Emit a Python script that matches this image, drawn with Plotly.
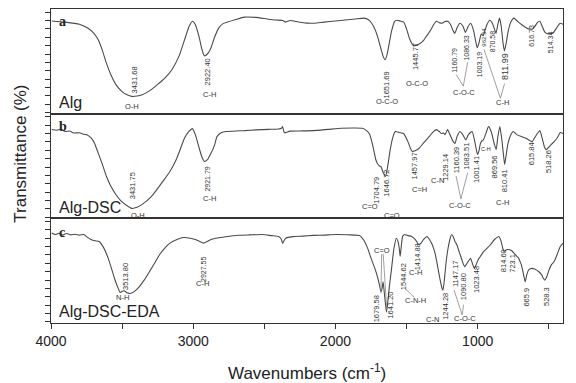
import plotly.graph_objects as go
from plotly.subplots import make_subplots

# ---------------- data (wavenumber cm-1, relative transmittance per panel) -------------
wn_a = [3995, 3900, 3800, 3745, 3700, 3665, 3640, 3610, 3575, 3540, 3500, 3465, 3432, 3395, 3359, 3300,
        3250, 3200, 3150, 3100, 3060, 3030, 3006, 2985, 2960, 2940, 2922, 2900, 2875, 2850, 2820, 2790,
        2760, 2700, 2640, 2560, 2480, 2420, 2370, 2350, 2320, 2260, 2200, 2150, 2080, 2000, 1930, 1860,
        1800, 1770, 1745, 1720, 1700, 1680, 1665, 1652, 1638, 1622, 1605, 1585, 1568, 1545, 1520, 1500,
        1480, 1460, 1446, 1430, 1405, 1380, 1355, 1330, 1310, 1290, 1270, 1250, 1230, 1210, 1190, 1175,
        1161, 1145, 1125, 1105, 1086, 1068, 1050, 1030, 1015, 1003, 990, 975, 962, 950, 935, 915, 895,
        880, 871, 860, 847, 835, 822, 812, 800, 785, 765, 745, 725, 700, 670, 645, 625, 617, 600, 580,
        563, 545, 528, 514, 495, 470, 445, 420, 400]
t_a = [88.6, 87.5, 85.5, 82, 77, 70, 61, 48, 36, 27, 21, 18, 16.5, 16.8, 18, 22.5,
       28, 34, 42, 55, 71, 83, 88.3, 85, 74, 62, 55.3, 57, 63, 73, 82, 86,
       87.5, 90, 92.2, 92, 90.5, 89.5, 89, 87.5, 89, 87.5, 86.5, 86.4, 87.5, 88.5, 89.5, 90.5,
       91.3, 90, 86.4, 80, 72, 62, 55, 51.5, 56, 67, 79, 88, 89.3, 88.5, 87.4, 81,
       72, 66.5, 65, 65.5, 67, 70, 75, 80, 85, 88.3, 87, 86.4, 88, 88.3, 85, 80,
       76.7, 82, 86.4, 84, 77.7, 83, 86.4, 80, 70, 63, 68, 76, 74.5, 79, 85, 89.3, 86,
       80, 76.7, 84, 91.3, 84, 68, 60, 67, 79, 88, 91.3, 89, 86, 83, 81, 80.8, 80.6, 83, 87,
       88.3, 83, 78, 76.7, 76.2, 77, 82, 86.4, 85.4]

wn_b = [3995, 3960, 3930, 3900, 3870, 3840, 3800, 3770, 3745, 3720, 3695, 3670, 3640, 3610, 3580, 3545,
        3510, 3470, 3432, 3395, 3359, 3300, 3265, 3215, 3164, 3120, 3092, 3060, 3030, 3006, 2985, 2960,
        2940, 2922, 2900, 2876, 2850, 2833, 2800, 2768, 2700, 2638, 2560, 2470, 2400, 2380, 2372, 2360,
        2350, 2320, 2250, 2156, 2050, 1960, 1880, 1810, 1775, 1759, 1735, 1716, 1705, 1690, 1680, 1665,
        1647, 1630, 1615, 1595, 1579, 1550, 1521, 1500, 1485, 1470, 1458, 1440, 1413, 1380, 1341, 1310,
        1291, 1270, 1255, 1240, 1229, 1212, 1195, 1175, 1160, 1145, 1125, 1105, 1084, 1065, 1039, 1020,
        1001, 990, 981, 970, 960, 945, 924, 905, 885, 870, 858, 844, 830, 818, 810, 800, 787, 770, 750,
        725, 693, 660, 630, 616, 595, 575, 563, 545, 530, 518, 500, 480, 462, 440, 419, 400]
t_b = [84.9, 84.2, 85, 83, 83.5, 81.5, 81.8, 80.3, 79.6, 77, 72, 63, 52, 40, 31, 23,
       17, 12.5, 9.5, 10.5, 13.3, 20, 25.7, 35, 44.8, 56, 65.7, 77, 83, 85.7, 80, 68,
       59, 54.3, 56, 61.9, 70, 78.1, 82, 82.9, 83.5, 83.8, 84.5, 85, 85.4, 86, 87.6, 82,
       81.9, 83.3, 83.5, 83.8, 85, 86, 86.3, 86, 83, 80, 68, 56, 52.4, 50, 49.5, 44,
       40, 52, 65.7, 78, 82.9, 82, 81, 76, 71.4, 66, 63.8, 64.5, 66.7, 72, 78.1, 83,
       84.8, 83, 81, 81.5, 80, 84.8, 80, 74, 71.4, 78, 82.9, 80, 75, 80, 82.9, 73,
       61, 65, 71.4, 74, 75, 80, 87.6, 83, 72, 65.7, 78, 87.6, 75, 60, 51.4, 60, 71.4, 79, 82.9,
       80, 78.1, 76.5, 74, 73.3, 78, 82, 83.8, 76, 68, 65.7, 68, 71, 73.3, 77, 81.9, 81]

wn_c = [3995, 3970, 3945, 3920, 3890, 3860, 3830, 3800, 3769, 3745, 3719, 3690, 3661, 3630, 3597, 3570,
        3553, 3530, 3514, 3488, 3465, 3445, 3415, 3380, 3345, 3308, 3270, 3236, 3200, 3164, 3110, 3071,
        3020, 2980, 2950, 2928, 2900, 2876, 2820, 2761, 2680, 2600, 2516, 2450, 2400, 2380, 2372, 2360,
        2350, 2300, 2230, 2156, 2080, 2000, 1918, 1870, 1831, 1800, 1774, 1750, 1723, 1700, 1690, 1680,
        1672, 1665, 1655, 1648, 1641, 1632, 1620, 1608, 1590, 1572, 1560, 1550, 1545, 1538, 1527, 1514,
        1490, 1464, 1440, 1425, 1415, 1400, 1380, 1356, 1340, 1320, 1300, 1284, 1265, 1250, 1244, 1235,
        1222, 1212, 1195, 1183, 1170, 1160, 1147, 1130, 1110, 1100, 1091, 1080, 1067, 1050, 1035, 1023,
        1010, 995, 981, 960, 930, 909, 880, 851, 835, 825, 815, 798, 779, 760, 740, 723, 712, 700, 693,
        680, 666, 655, 640, 620, 600, 570, 550, 540, 528, 515, 500, 480, 462, 440, 419, 400]
t_c = [86, 84.5, 85.8, 84, 85.5, 84.2, 84.8, 84, 84.6, 82, 79.8, 78.5, 77.9, 72, 61.5, 50,
       42.3, 34, 29.2, 30.8, 29, 28.2, 30, 34.6, 41, 49, 57.5, 65.4, 71.5, 76.3, 80, 81.7,
       81, 79.5, 77.5, 76.3, 78, 79.8, 81.5, 82.7, 83.8, 84.2, 84.6, 83.5, 82.7, 80, 76.3, 79,
       81, 82.5, 83, 83.7, 84, 84.5, 84.3, 84, 83.7, 79, 71.5, 62, 52.2, 42, 36, 29.8,
       33, 39.4, 27, 18, 10.6, 20, 36, 49, 70, 81, 78, 70, 63.5, 72, 83, 84.6,
       83.5, 82.7, 80, 77, 75, 76, 80, 82.7, 80, 75, 67, 55.8, 42, 33, 31.4, 40,
       58, 68.3, 80, 84.6, 82, 78, 75, 68, 60, 56, 53.8, 56, 58.7, 61.9, 56, 52,
       56, 61, 63.5, 68, 72, 75, 80, 82.7, 78, 72, 68.3, 70, 70.2, 69, 66, 63.5, 62, 58, 55.8,
       48, 39.4, 46, 51, 52.2, 51.5, 49, 46, 43, 41, 44, 50, 56, 58.7, 66, 73, 76.3]

panel_letters = ["a", "b", "c"]
sample_names = ["Alg", "Alg-DSC", "Alg-DSC-EDA"]
x_tick_vals = [4000, 3000, 2000, 1000]

# annotation texts: (text, wavenumber, level, rotated, size)
labels_a = [("3431.68", 3415, 31.9, True, 7.5), ("O-H", 3427, 6.8, False, 7.5),
            ("2922.40", 2899, 40, True, 7.5), ("C-H", 2887, 18.5, False, 7.5),
            ("1651.69", 1644, 27, True, 7.5), ("O-C-O", 1639, 11.7, False, 7.5),
            ("1445.77", 1435, 54.8, True, 7.5), ("O-C-O", 1424, 28.7, False, 7.5),
            ("1160.79", 1159, 50.5, True, 7), ("1086.33", 1075, 62.2, True, 7),
            ("C-O-C", 1099, 20.5, False, 7.5), ("1003.19", 991, 47.2, True, 7),
            ("962.34", 962, 72.7, True, 6), ("870.58", 895, 68.8, True, 7),
            ("811.99", 811, 45, True, 9), ("C-H", 823, 10.7, False, 7.5),
            ("616.73", 619, 74.4, True, 7), ("514.34", 488, 68.8, True, 7)]
labels_b = [("3431.75", 3427, 31.1, True, 7.5), ("O-H", 3391, 3, False, 7.5),
            ("2921.79", 2899, 37.6, True, 7), ("C-H", 2887, 18.6, False, 7.5),
            ("C=O", 1759, 11.1, False, 7.5), ("1704.79", 1711, 26.8, True, 7.5),
            ("1646.72", 1639, 33.9, True, 7.5), ("C=O", 1603, 3, False, 7.5),
            ("1457.97", 1447, 49.6, True, 7.5), ("C=H", 1411, 27.4, False, 7.5),
            ("1229.14", 1231, 48.9, True, 7.5), ("C-N", 1279, 36.6, False, 7.5),
            ("1160.39", 1152, 55.5, True, 7.5), ("1083.51", 1075, 58.8, True, 7.5),
            ("C-O-C", 1123, 12.1, False, 7.5), ("1001.41", 1003, 46.4, True, 7.5),
            ("C-H", 943, 66, False, 5.5), ("869.56", 883, 48.9, True, 7.5),
            ("810.41", 811, 35.9, True, 7.5), ("C-H", 823, 15.4, False, 7.5),
            ("615.84", 619, 62, True, 7.5), ("518.26", 506, 54.6, True, 7.5)]
labels_c = [("3513.80", 3475, 44.6, True, 7.5), ("N-H", 3499, 24.4, False, 7.5),
            ("2927.55", 2928, 51.1, True, 7), ("C-H", 2935, 38, False, 7.5),
            ("C=O", 1675, 69, False, 7.5), ("1679.58", 1711, 13.6, True, 7.5),
            ("1641.20", 1615, 16.8, True, 7.5), ("1544.62", 1526, 44.6, True, 7.5),
            ("1414.88", 1423, 63.2, True, 7.5), ("C-H", 1435, 47.8, False, 7.5),
            ("C-N-H", 1435, 21.7, False, 7.5), ("C-N", 1315, 3.2, False, 7.5),
            ("1244.28", 1231, 16.2, True, 7.5), ("1147.17", 1159, 46.8, True, 7.5),
            ("1090.80", 1099, 34.8, True, 7.5), ("C-O-C", 1087, 4.5, False, 7.5),
            ("1023.48", 1003, 41.3, True, 7.5), ("814.60", 823, 59.9, True, 7.5),
            ("723.1", 751, 56.7, True, 7.5), ("665.9", 655, 25, True, 7.5),
            ("528.3", 511, 25, True, 7.5)]

# leader lines: (wn0, level0, wn1, level1)
leaders_a = [(1152, 37.5, 1101, 26.4), (1070, 49.2, 1101, 26.4),
             (955, 61.3, 840, 14.6), (811, 28.7, 840, 14.6)]
leaders_b = [(1152, 40.4, 1118, 18.6), (1070, 43.8, 1118, 18.6)]
leaders_c = [(1675, 65.8, 1680, 28.4), (1664, 65.8, 1639, 12),
             (1507, 32.5, 1447, 24.7), (1166, 31.5, 1109, 7.7), (1099, 17.5, 1109, 7.7)]

# ---------------- figure -------------
FONT = "Liberation Sans, Arial, sans-serif"
fig = make_subplots(rows=3, cols=1, shared_xaxes=True, vertical_spacing=0)

series = [(wn_a, t_a), (wn_b, t_b), (wn_c, t_c)]
for i, (xs, ys) in enumerate(series):
    fig.add_trace(go.Scatter(x=xs, y=ys, mode="lines",
                             line=dict(color="#4a4a4a", width=1.1, shape="spline", smoothing=0.5),
                             showlegend=False, hoverinfo="skip"), row=i + 1, col=1)

all_labels = [labels_a, labels_b, labels_c]
all_leaders = [leaders_a, leaders_b, leaders_c]
yrefs = ["y", "y2", "y3"]
for i in range(3):
    yr = yrefs[i]
    for (txt, xv, yv, rot, sz) in all_labels[i]:
        fig.add_annotation(x=xv, y=yv, xref="x", yref=yr, text=txt, showarrow=False,
                           xanchor="center", yanchor="middle",
                           textangle=-90 if rot else 0,
                           font=dict(family=FONT, size=sz, color="#333"))
    for (x0, y0, x1, y1) in all_leaders[i]:
        fig.add_shape(type="line", x0=x0, y0=y0, x1=x1, y1=y1, xref="x", yref=yr,
                      line=dict(color="#888", width=0.8))
    # panel letter
    top_level = [97.5, 97, 96][i]
    fig.add_annotation(x=3955, y=top_level, xref="x", yref=yr, text="<b>%s</b>" % panel_letters[i],
                       showarrow=False, xanchor="left", yanchor="top",
                       font=dict(family="Liberation Serif, Times New Roman, serif", size=14, color="#222"))
    # sample name
    fig.add_annotation(x=3955, y=0.5, xref="x", yref=yr, text=sample_names[i],
                       showarrow=False, xanchor="left", yanchor="bottom",
                       font=dict(family=FONT, size=16, color="#222"))

fig.add_annotation(x=-0.06, y=0.54, xref="paper", yref="paper", text="Transmittance (%)",
                   textangle=-90, showarrow=False, xanchor="center", yanchor="middle",
                   font=dict(family=FONT, size=17, color="#222"))
fig.add_annotation(x=0.5, y=-0.157, xref="paper", yref="paper",
                   text="Wavenumbers (cm<sup>-1</sup>)", showarrow=False,
                   xanchor="center", yanchor="middle",
                   font=dict(family=FONT, size=17, color="#222"))

axis_line = dict(showline=True, mirror=True, linecolor="#333", linewidth=1.3,
                 showgrid=False, zeroline=False)
for i in range(1, 4):
    fig.update_yaxes(range=[0, 100], tickmode="linear", tick0=1, dtick=8, ticks="outside",
                     ticklen=5, tickcolor="#333", showticklabels=False, row=i, col=1, **axis_line)
    if i < 3:
        fig.update_xaxes(range=[4000, 400], ticks="", showticklabels=False, row=i, col=1, **axis_line)
fig.update_xaxes(range=[4000, 400], tickmode="array", tickvals=x_tick_vals,
                 ticktext=[str(v) for v in x_tick_vals], ticks="outside", ticklen=5,
                 tickcolor="#333", minor=dict(dtick=500, tick0=0, ticks="outside", ticklen=5,
                                              tickcolor="#333"),
                 tickfont=dict(family=FONT, size=14, color="#222"), row=3, col=1, **axis_line)

# page body has an 8px default margin, so the figure is sized/offset to compensate
fig.update_layout(width=568, height=375, margin=dict(l=43, r=13, t=1, b=60),
                  paper_bgcolor="white", plot_bgcolor="white", showlegend=False)

fig.write_html("out.html")
